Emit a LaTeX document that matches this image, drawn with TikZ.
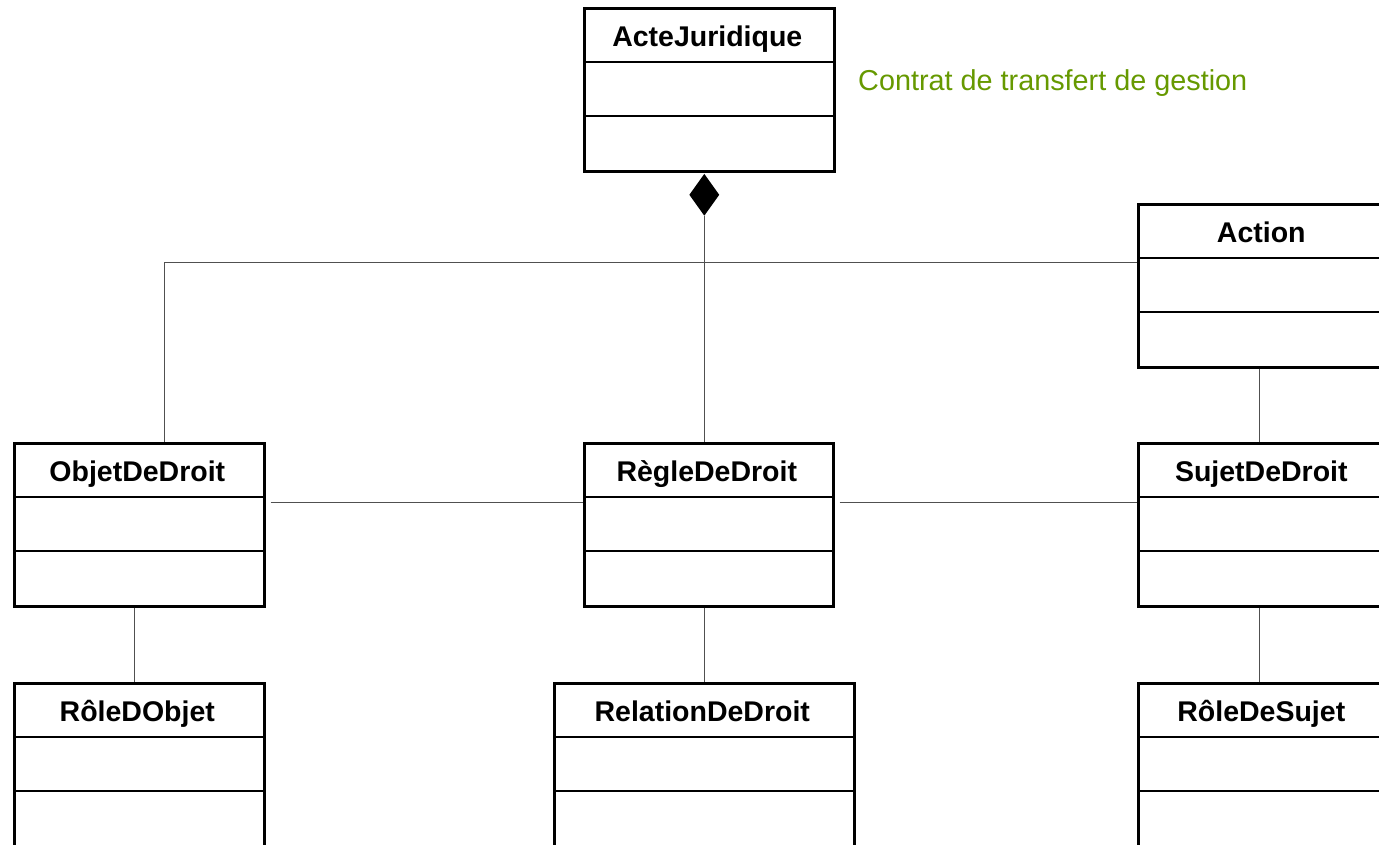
\documentclass[tikz,border=0pt]{standalone}
\usepackage{fontspec}
\setmainfont{Liberation Sans}
\usetikzlibrary{shapes.geometric}
\definecolor{notegreen}{RGB}{102,153,0}
\definecolor{linegray}{RGB}{80,80,80}
\tikzset{
  umlclass/.style={draw=black, line width=2.6pt, rectangle, minimum height=163pt, inner sep=0pt, anchor=north west},
  classname/.style={anchor=base, inner sep=0pt, font=\fontsize{28.5}{34}\selectfont\bfseries},
  divider/.style={draw=black, line width=2.6pt},
  assoc/.style={draw=linegray, line width=1pt},
  notetext/.style={anchor=base west, inner sep=0pt, text=notegreen, font=\fontsize{28.8}{34}\selectfont},
  compdiamond/.style={diamond, fill=black, draw=none, inner sep=0pt, minimum width=30pt, minimum height=42pt, aspect=0.714, anchor=north}
}
\newcommand{\umlcls}[5]{%
  \node[umlclass, minimum width=#4pt] (#1) at (#2,#3) {};
  \node[classname] (#1-name) at ([xshift=-2pt,yshift=-39pt]#1.north) {#5};
  \draw[divider] ([yshift=-55pt]#1.north west) -- ([yshift=-55pt]#1.north east);
  \draw[divider] ([yshift=-109pt]#1.north west) -- ([yshift=-109pt]#1.north east);
}
\begin{document}
\begin{tikzpicture}[x=1pt,y=-1pt]
\useasboundingbox (0,0) rectangle (1379,844);
\clip (0,0) rectangle (1379,844);
\fill[white] (0,0) rectangle (1379,844);

\umlcls{acte}{583}{7}{250}{ActeJuridique}
\umlcls{action}{1137}{203}{250}{Action}
\umlcls{objet}{13}{442}{250}{ObjetDeDroit}
\umlcls{regle}{583}{442}{249}{RègleDeDroit}
\umlcls{sujet}{1137}{442}{250}{SujetDeDroit}
\umlcls{roleobjet}{13}{682}{250}{RôleDObjet}
\umlcls{relation}{553}{682}{300}{RelationDeDroit}
\umlcls{rolesujet}{1137}{682}{250}{RôleDeSujet}

\node[notetext] (note) at (858,90) {Contrat de transfert de gestion};

\node[compdiamond] (dia) at ([xshift=-5pt,yshift=-1pt]acte.south) {};

\draw[assoc] (dia.south) -- (dia.south |- regle.north);
\draw[assoc] ([yshift=-59pt]action.north west) -| ([xshift=25pt]objet.north);
\draw[assoc] ([xshift=5pt,yshift=-60pt]objet.north east) -- ([yshift=-60pt]regle.north west);
\draw[assoc] ([xshift=5pt,yshift=-60pt]regle.north east) -- ([yshift=-60pt]sujet.north west);
\draw[assoc] ([xshift=-4pt]action.south) -- ([xshift=-4pt]sujet.north);
\draw[assoc] ([xshift=-4pt]sujet.south) -- ([xshift=-4pt]rolesujet.north);
\draw[assoc] ([xshift=-4.5pt]regle.south) -- ([xshift=-4.5pt]regle.south |- relation.north);
\draw[assoc] ([xshift=-5pt]objet.south) -- ([xshift=-5pt]roleobjet.north);
\end{tikzpicture}
\end{document}
